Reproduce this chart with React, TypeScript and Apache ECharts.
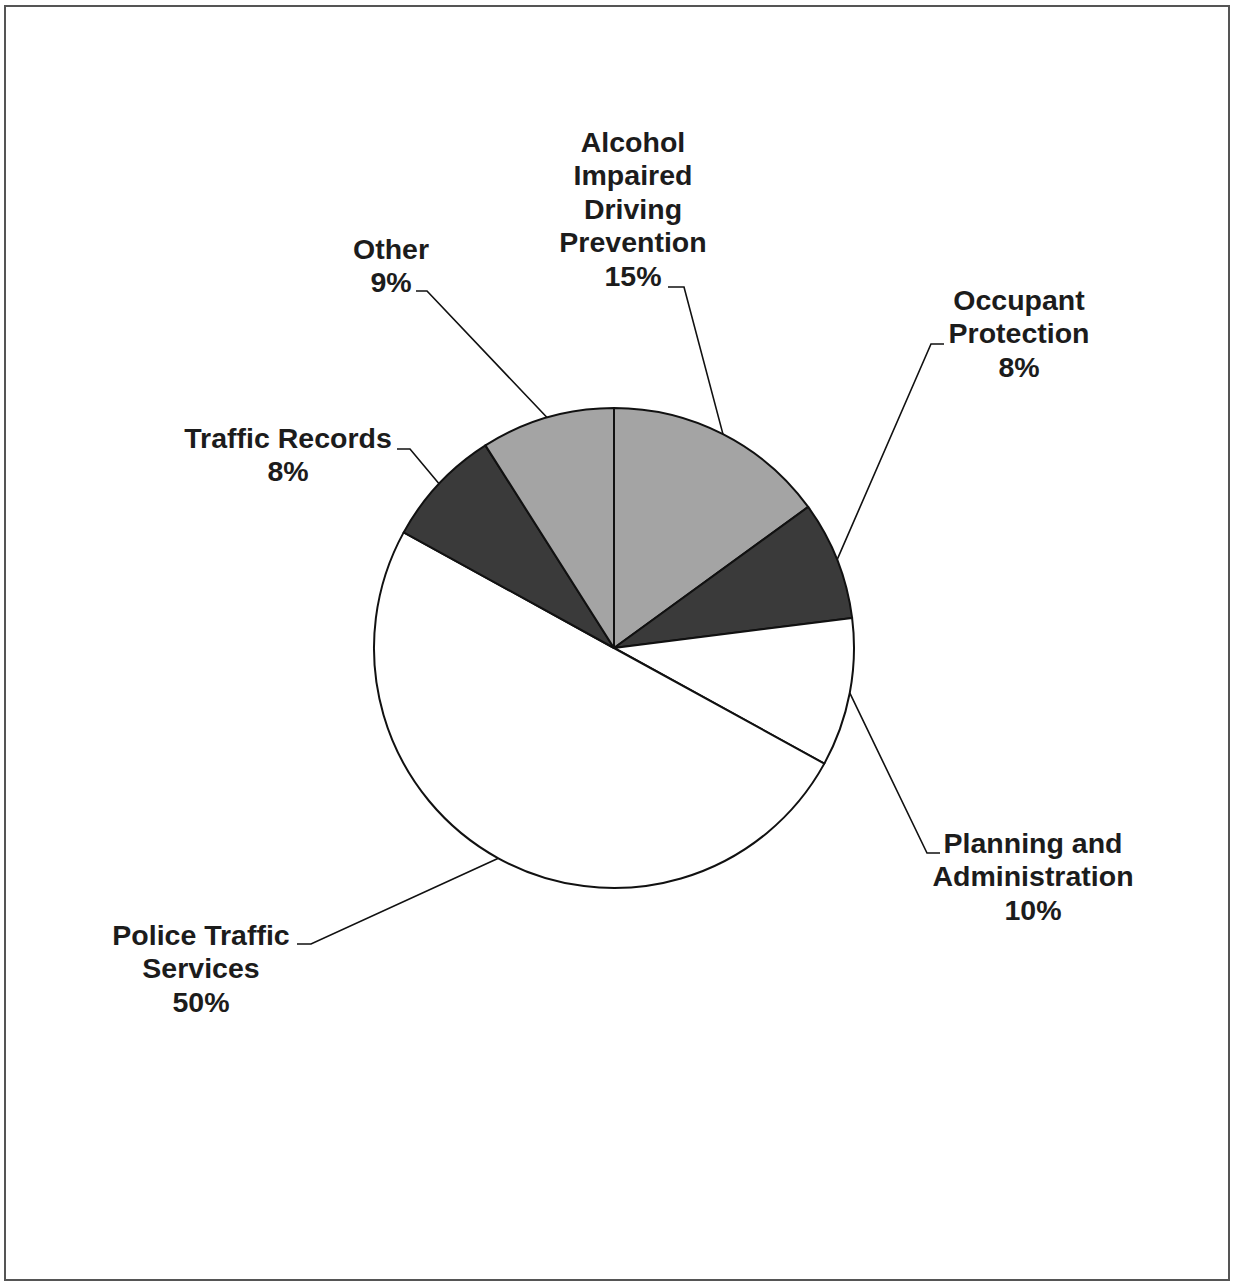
import React, { useEffect, useRef } from "react";
import * as echarts from "echarts";

const categories = [
  "Alcohol Impaired Driving Prevention",
  "Occupant Protection",
  "Planning and Administration",
  "Police Traffic Services",
  "Traffic Records",
  "Other",
];
const labelTexts = [
  "Alcohol\nImpaired\nDriving\nPrevention",
  "Occupant\nProtection",
  "Planning and\nAdministration",
  "Police Traffic\nServices",
  "Traffic Records",
  "Other",
];
const values = [15, 8, 10, 50, 8, 9];
const sliceColors = ["#a4a4a4", "#3a3a3a", "#ffffff", "#ffffff", "#3a3a3a", "#a4a4a4"];

const CENTER = [614, 648];
const RADIUS = 240;

// label placement: centre x, top y, leader elbow, leader end near text
const labelPlacement = [
  { x: 633, y: 125, elbow: [684, 287], end: [668, 287] },
  { x: 1019, y: 283, elbow: [931, 344], end: [944, 344] },
  { x: 1033, y: 826, elbow: [927, 853], end: [940, 853] },
  { x: 201, y: 918, elbow: [311, 944], end: [297, 944] },
  { x: 288, y: 421, elbow: [410, 449], end: [397, 449] },
  { x: 391, y: 232, elbow: [427, 291], end: [416, 291] },
];

export default function App() {
  const ref = useRef<HTMLDivElement>(null);
  useEffect(() => {
    document.body.style.margin = "0";
    const chart = echarts.init(ref.current!, null, { renderer: "svg" });
    const total = values.reduce((a, b) => a + b, 0);
    const edgePoint = (i: number) => {
      let cum = 0;
      for (let k = 0; k < i; k++) cum += values[k];
      const mid = ((cum + values[i] / 2) / total) * Math.PI * 2;
      return [CENTER[0] + RADIUS * Math.sin(mid), CENTER[1] - RADIUS * Math.cos(mid)];
    };
    chart.setOption({
      animation: false,
      backgroundColor: "#ffffff",
      graphic: [
        {
          type: "rect",
          shape: { x: 5, y: 6, width: 1224, height: 1274 },
          style: { fill: "none", stroke: "#555", lineWidth: 2 },
          silent: true,
        },
      ],
      series: [
        {
          type: "pie",
          center: CENTER,
          radius: RADIUS,
          startAngle: 90,
          clockwise: true,
          avoidLabelOverlap: false,
          data: categories.map((name, i) => ({
            name,
            value: values[i],
            itemStyle: { color: sliceColors[i] },
          })),
          itemStyle: { borderColor: "#111", borderWidth: 2 },
          label: {
            show: true,
            position: "outside",
            formatter: (p: any) => `${labelTexts[p.dataIndex]}\n${p.value}%`,
            fontFamily: "Liberation Sans, Arial, sans-serif",
            fontWeight: "bold",
            fontSize: 28.5,
            lineHeight: 33.5,
            color: "#1c1c1c",
            align: "center",
          },
          labelLine: {
            show: true,
            lineStyle: { color: "#111", width: 1.6 },
          },
          labelLayout: (params: any) => {
            const L = labelPlacement[params.dataIndex];
            return {
              x: L.x,
              y: L.y,
              align: "center",
              verticalAlign: "top",
              labelLinePoints: [edgePoint(params.dataIndex), L.elbow, L.end],
            };
          },
          emphasis: { disabled: true },
        },
      ],
    });
    return () => chart.dispose();
  }, []);
  return <div ref={ref} style={{ width: 1233, height: 1284 }} />;
}
